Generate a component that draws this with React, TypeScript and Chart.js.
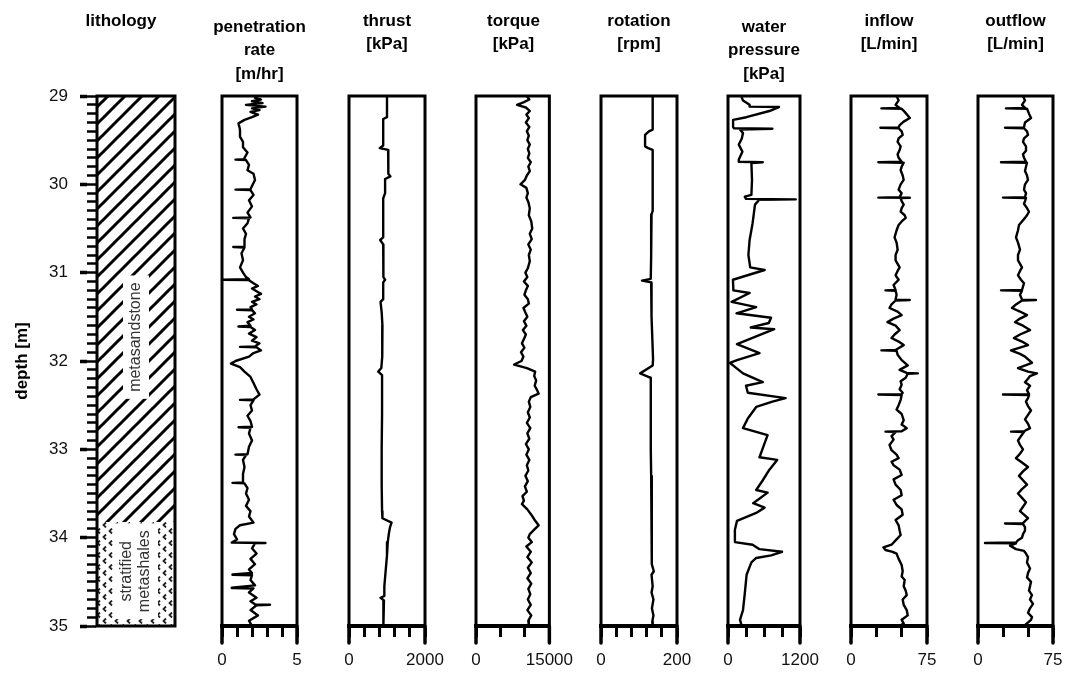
import { useEffect, useRef } from "react"
import { Chart, registerables } from "chart.js"

Chart.register(...registerables)
Chart.defaults.font.family = "'Liberation Sans', Arial, sans-serif"
Chart.defaults.color = "#111"

const depthMin = 29
const depthMax = 35

// lithology intervals [m]
const lithTop = [29, 33.82]
const lithBase = [33.82, 35]
const lithLabels = [["metasandstone"], ["stratified", "metashales"]]
const lithLabelDepth = [31.73, 34.38]

// [depth m, value]
const penetration = [
  [29.0, 2.4], [29.02, 2.2], [29.04, 2.6], [29.06, 2.0], [29.08, 2.7], [29.1, 1.6], [29.12, 2.9], [29.14, 2.0],
  [29.16, 2.5], [29.18, 1.9], [29.21, 2.4], [29.24, 2.0], [29.27, 1.5], [29.31, 1.1], [29.38, 1.2], [29.46, 1.2],
  [29.52, 1.4], [29.58, 1.4], [29.64, 1.7], [29.7, 1.5], [29.715, 1.5], [29.72, 0.9], [29.725, 1.6], [29.78, 1.8],
  [29.84, 1.7], [29.88, 2.1], [29.95, 2.2], [30.02, 2.0], [30.055, 1.9], [30.06, 0.9], [30.065, 1.9], [30.12, 2.1],
  [30.18, 1.8], [30.25, 2.0], [30.32, 1.7], [30.375, 1.9], [30.38, 0.75], [30.385, 1.8], [30.44, 1.7], [30.5, 1.4],
  [30.56, 1.6], [30.62, 1.5], [30.705, 1.5], [30.71, 0.75], [30.715, 1.5], [30.78, 1.3], [30.86, 1.4], [30.94, 1.2],
  [31.0, 1.4], [31.05, 1.6], [31.075, 1.8], [31.08, 0], [31.085, 1.8], [31.12, 2.1], [31.15, 2.4], [31.18, 2.0],
  [31.21, 2.3], [31.24, 2.6], [31.27, 2.2], [31.3, 2.5], [31.33, 2.0], [31.36, 2.3], [31.39, 1.9], [31.415, 2.0],
  [31.42, 1.0], [31.425, 2.0], [31.46, 2.2], [31.5, 1.8], [31.53, 2.1], [31.56, 1.7], [31.6, 1.9], [31.61, 1.1],
  [31.615, 1.9], [31.65, 2.2], [31.69, 1.8], [31.73, 2.3], [31.77, 2.0], [31.8, 2.5], [31.835, 2.2], [31.84, 1.2],
  [31.845, 2.3], [31.88, 2.6], [31.91, 2.1], [31.95, 1.8], [32.0, 0.9], [32.03, 0.6], [32.07, 1.2], [32.12, 1.5],
  [32.18, 1.9], [32.25, 2.1], [32.32, 2.3], [32.38, 2.5], [32.435, 2.1], [32.44, 1.2], [32.445, 2.1], [32.5, 1.9],
  [32.56, 2.0], [32.62, 1.7], [32.68, 1.9], [32.745, 2.0], [32.75, 1.1], [32.755, 1.9], [32.82, 1.8], [32.9, 2.0],
  [32.97, 1.8], [33.055, 1.7], [33.06, 0.9], [33.065, 1.6], [33.12, 1.4], [33.2, 1.5], [33.28, 1.4], [33.375, 1.4],
  [33.38, 0.7], [33.385, 1.5], [33.44, 1.7], [33.5, 1.6], [33.57, 1.8], [33.64, 1.6], [33.7, 1.9], [33.76, 1.8],
  [33.83, 2.1], [33.86, 1.2], [33.9, 0.9], [33.96, 0.8], [34.02, 1.0], [34.055, 0.65], [34.06, 2.9], [34.065, 2.2],
  [34.12, 2.0], [34.18, 2.3], [34.24, 1.9], [34.3, 2.2], [34.36, 1.8], [34.4, 2.0], [34.415, 0.7], [34.42, 0.7],
  [34.425, 2.0], [34.48, 1.9], [34.54, 2.2], [34.565, 0.65], [34.57, 0.65], [34.575, 2.1], [34.62, 1.8], [34.68, 2.3],
  [34.72, 1.9], [34.755, 2.2], [34.76, 3.2], [34.765, 2.3], [34.82, 1.9], [34.88, 2.4], [34.94, 1.8], [35.0, 2.0],
]

const thrust = [
  [29.0, 1000], [29.24, 1000], [29.26, 900], [29.56, 900], [29.59, 810], [29.61, 1030], [29.75, 1030], [29.88, 1040],
  [29.91, 1090], [29.94, 950], [30.1, 950], [30.16, 900], [30.4, 900], [30.6, 900], [30.63, 820], [30.68, 900],
  [30.9, 910], [31.05, 900], [31.08, 950], [31.11, 900], [31.3, 900], [31.33, 830], [31.45, 860], [31.6, 880],
  [31.8, 880], [31.95, 870], [32.08, 850], [32.12, 770], [32.16, 870], [32.6, 870], [33.0, 860], [33.4, 860],
  [33.7, 870], [33.78, 880], [33.83, 1120], [33.88, 1080], [33.95, 1050], [34.05, 1020], [34.2, 1000], [34.4, 960],
  [34.55, 930], [34.66, 930], [34.68, 830], [34.71, 920], [34.85, 910], [35.0, 900],
]

const torque = [
  [29.0, 10400], [29.04, 10900], [29.07, 9800], [29.1, 8400], [29.13, 10200], [29.17, 11000], [29.21, 10300],
  [29.25, 10800], [29.3, 10200], [29.35, 10900], [29.4, 10400], [29.45, 10800], [29.5, 10500], [29.55, 11000],
  [29.6, 10600], [29.65, 10900], [29.7, 10600], [29.75, 11200], [29.8, 10700], [29.85, 11000], [29.9, 10400],
  [29.95, 10000], [30.0, 9100], [30.04, 10300], [30.1, 10600], [30.15, 10300], [30.2, 10700], [30.27, 11000],
  [30.35, 10800], [30.42, 11300], [30.5, 11500], [30.56, 11000], [30.62, 11400], [30.68, 10700], [30.74, 11200],
  [30.8, 10800], [30.87, 11000], [30.95, 10600], [31.0, 10100], [31.05, 10500], [31.1, 9800], [31.15, 10600],
  [31.2, 10200], [31.25, 9900], [31.3, 10600], [31.35, 10800], [31.4, 9700], [31.45, 10100], [31.5, 10500],
  [31.55, 9800], [31.6, 10300], [31.65, 9600], [31.7, 10200], [31.75, 9800], [31.8, 9400], [31.85, 9900],
  [31.9, 9200], [31.95, 9700], [32.0, 9300], [32.04, 7800], [32.08, 10400], [32.12, 12100], [32.17, 11900],
  [32.22, 12300], [32.28, 12000], [32.33, 12500], [32.37, 12800], [32.41, 11200], [32.46, 10800], [32.52, 11100],
  [32.58, 10600], [32.64, 11000], [32.7, 10400], [32.76, 11100], [32.82, 10500], [32.88, 10900], [32.94, 10200],
  [33.0, 10800], [33.06, 10300], [33.12, 10900], [33.18, 10400], [33.24, 10700], [33.3, 10100], [33.36, 10600],
  [33.42, 10000], [33.48, 10400], [33.53, 9500], [33.58, 9800], [33.62, 9400], [33.68, 10500], [33.74, 11300],
  [33.8, 12000], [33.86, 12800], [33.91, 11900], [33.96, 11000], [34.0, 10700], [34.05, 11400], [34.1, 10300],
  [34.16, 11200], [34.22, 10500], [34.28, 11400], [34.34, 10600], [34.4, 11200], [34.46, 10500], [34.52, 11300],
  [34.58, 10700], [34.64, 11100], [34.7, 10600], [34.76, 11200], [34.82, 10500], [34.88, 11300], [34.94, 10700],
  [35.0, 10800],
]

const rotation = [
  [29.0, 136], [29.38, 136], [29.4, 126], [29.44, 116], [29.57, 116], [29.59, 124], [29.61, 136], [30.3, 136],
  [30.34, 133], [30.8, 132], [31.07, 131], [31.09, 108], [31.11, 132], [31.5, 133], [31.98, 137], [32.05, 136],
  [32.14, 103], [32.19, 131], [32.23, 131], [32.6, 131], [33.0, 131], [33.3, 132], [33.8, 133], [34.1, 134],
  [34.3, 134], [34.38, 139], [34.42, 133], [34.55, 136], [34.62, 133], [34.7, 138], [34.8, 134], [34.88, 138],
  [34.95, 135], [35.0, 136],
]

const waterPressure = [
  [29.01, 224], [29.05, 250], [29.1, 360], [29.12, 360], [29.125, 850], [29.17, 690], [29.24, 306], [29.27, 85],
  [29.35, 85], [29.365, 100], [29.37, 740], [29.38, 200], [29.42, 250], [29.48, 230], [29.55, 180], [29.63, 240],
  [29.72, 180], [29.745, 180], [29.75, 580], [29.76, 390], [29.95, 400], [30.12, 390], [30.14, 280], [30.165, 300],
  [30.17, 1130], [30.175, 520], [30.23, 450], [30.44, 410], [30.63, 360], [30.8, 340], [30.94, 370], [30.97, 610],
  [31.08, 82], [31.2, 90], [31.23, 360], [31.33, 60], [31.39, 470], [31.46, 142], [31.51, 717], [31.57, 680],
  [31.62, 380], [31.64, 770], [31.81, 150], [31.91, 525], [31.99, 150], [32.02, 30], [32.07, 120], [32.14, 250],
  [32.24, 580], [32.28, 300], [32.36, 330], [32.42, 960], [32.46, 740], [32.52, 470], [32.65, 330], [32.76, 250],
  [32.84, 660], [32.95, 600], [33.09, 525], [33.12, 820], [33.23, 690], [33.35, 580], [33.46, 470], [33.49, 660],
  [33.61, 420], [33.66, 610], [33.72, 470], [33.81, 150], [33.91, 115], [34.05, 115], [34.08, 410], [34.13, 525],
  [34.16, 900], [34.2, 720], [34.23, 470], [34.28, 390], [34.42, 310], [34.63, 280], [34.82, 250], [34.93, 200],
  [35.0, 230],
]

const inflow = [
  [29.0, 45], [29.05, 47], [29.1, 44], [29.135, 48], [29.14, 30], [29.145, 50], [29.18, 53], [29.22, 56], [29.25, 58],
  [29.29, 52], [29.33, 48], [29.355, 47], [29.36, 29], [29.365, 47], [29.4, 50], [29.44, 51], [29.48, 47], [29.52, 46],
  [29.57, 49], [29.61, 48], [29.66, 46], [29.7, 47], [29.745, 50], [29.75, 27], [29.755, 52], [29.8, 50], [29.84, 49],
  [29.9, 51], [29.95, 52], [30.0, 49], [30.06, 47], [30.1, 50], [30.145, 48], [30.15, 27], [30.152, 58], [30.155, 49],
  [30.19, 50], [30.23, 52], [30.27, 50], [30.31, 49], [30.35, 53], [30.38, 54], [30.42, 50], [30.46, 47], [30.52, 45],
  [30.6, 43], [30.66, 45], [30.74, 46], [30.8, 44], [30.86, 44], [30.94, 48], [30.98, 46], [31.03, 44], [31.08, 47],
  [31.14, 42], [31.195, 44], [31.2, 34], [31.205, 44], [31.25, 45], [31.305, 44], [31.31, 58], [31.315, 44],
  [31.36, 40], [31.4, 38], [31.44, 46], [31.48, 50], [31.52, 42], [31.56, 36], [31.6, 44], [31.65, 48], [31.7, 43],
  [31.74, 40], [31.78, 47], [31.82, 52], [31.875, 44], [31.88, 30], [31.885, 45], [31.93, 46], [31.99, 50],
  [32.05, 56], [32.1, 48], [32.135, 55], [32.14, 66], [32.145, 56], [32.19, 54], [32.23, 49], [32.27, 50],
  [32.32, 48], [32.36, 51], [32.375, 50], [32.38, 27], [32.385, 50], [32.44, 49], [32.5, 47], [32.55, 45],
  [32.6, 50], [32.67, 52], [32.72, 50], [32.76, 55], [32.795, 50], [32.8, 34], [32.805, 44], [32.85, 40],
  [32.89, 42], [32.95, 38], [33.01, 40], [33.06, 45], [33.1, 47], [33.14, 40], [33.18, 42], [33.23, 48],
  [33.29, 50], [33.34, 42], [33.4, 44], [33.46, 49], [33.52, 50], [33.57, 42], [33.63, 45], [33.68, 50],
  [33.74, 51], [33.8, 44], [33.86, 47], [33.92, 48], [33.97, 49], [34.03, 44], [34.08, 40], [34.11, 32],
  [34.14, 34], [34.16, 41], [34.18, 45], [34.24, 47], [34.31, 50], [34.38, 51], [34.44, 50], [34.48, 53],
  [34.55, 52], [34.6, 54], [34.65, 55], [34.7, 51], [34.76, 52], [34.82, 55], [34.88, 56], [34.93, 50],
  [34.97, 52], [35.0, 48],
]

const outflow = [
  [29.0, 45], [29.05, 47], [29.1, 44], [29.135, 47], [29.14, 28], [29.145, 49], [29.2, 51], [29.25, 53], [29.3, 47],
  [29.355, 46], [29.36, 27], [29.365, 46], [29.4, 49], [29.44, 50], [29.48, 46], [29.52, 45], [29.57, 48],
  [29.62, 48], [29.66, 45], [29.7, 46], [29.745, 48], [29.75, 23], [29.755, 49], [29.8, 48], [29.85, 47],
  [29.9, 49], [29.95, 50], [30.0, 47], [30.06, 46], [30.1, 48], [30.145, 47], [30.15, 25], [30.155, 48],
  [30.19, 47], [30.22, 46], [30.27, 49], [30.31, 51], [30.35, 49], [30.38, 47], [30.42, 44], [30.46, 41],
  [30.52, 40], [30.6, 38], [30.66, 40], [30.74, 42], [30.8, 40], [30.86, 40], [30.94, 44], [30.98, 42],
  [31.03, 40], [31.08, 43], [31.12, 46], [31.195, 44], [31.2, 23], [31.205, 44], [31.25, 42], [31.305, 44],
  [31.31, 58], [31.315, 44], [31.36, 38], [31.4, 34], [31.44, 42], [31.48, 49], [31.52, 42], [31.56, 37],
  [31.6, 45], [31.65, 52], [31.7, 42], [31.74, 36], [31.78, 44], [31.82, 50], [31.88, 33], [31.92, 42],
  [31.95, 47], [32.02, 54], [32.08, 40], [32.12, 50], [32.14, 59], [32.17, 52], [32.2, 50], [32.24, 47],
  [32.28, 52], [32.33, 49], [32.375, 51], [32.38, 25], [32.385, 51], [32.42, 50], [32.46, 48], [32.51, 50],
  [32.56, 53], [32.61, 50], [32.66, 47], [32.71, 50], [32.76, 52], [32.795, 46], [32.8, 33], [32.805, 46],
  [32.85, 43], [32.9, 40], [32.95, 42], [33.0, 45], [33.05, 42], [33.1, 38], [33.15, 44], [33.2, 50],
  [33.25, 45], [33.3, 41], [33.35, 45], [33.4, 49], [33.45, 44], [33.5, 40], [33.55, 44], [33.6, 48],
  [33.65, 45], [33.7, 42], [33.74, 46], [33.78, 50], [33.835, 45], [33.84, 27], [33.845, 45], [33.88, 47],
  [33.92, 47], [33.96, 45], [34.0, 44], [34.03, 40], [34.055, 38], [34.06, 7], [34.065, 38], [34.09, 32],
  [34.11, 35], [34.13, 38], [34.15, 46], [34.18, 48], [34.22, 50], [34.28, 49], [34.35, 52], [34.4, 50],
  [34.45, 49], [34.5, 53], [34.55, 52], [34.6, 51], [34.65, 54], [34.7, 52], [34.75, 55], [34.8, 52],
  [34.85, 50], [34.9, 54], [34.93, 53], [34.97, 49], [35.0, 46],
]

const panels = [
  { title: ["penetration", "rate", "[m/hr]"], data: penetration, max: 5, step: 1, left: 222, right: 297 },
  { title: ["thrust", "[kPa]"], data: thrust, max: 2000, step: 400, left: 349, right: 425 },
  { title: ["torque", "[kPa]"], data: torque, max: 15000, step: 5000, left: 476, right: 551 },
  { title: ["rotation", "[rpm]"], data: rotation, max: 200, step: 40, left: 601, right: 677 },
  { title: ["water", "pressure", "[kPa]"], data: waterPressure, max: 1200, step: 300, left: 728, right: 800 },
  { title: ["inflow", "[L/min]"], data: inflow, max: 75, step: 25, left: 851, right: 927 },
  { title: ["outflow", "[L/min]"], data: outflow, max: 75, step: 25, left: 978, right: 1053 },
]

const H = 673
const AREA_TOP = 96
const AXIS_H = 47
const LINE_H = 23.5
const SIDE = 35

function titleOptions(lines: string[]) {
  const top = lines.length > 2 ? 15.5 : 9.5
  return {
    display: true,
    text: lines,
    color: "#000",
    font: { size: 17, weight: "bold" as const, lineHeight: LINE_H / 17 },
    padding: { top, bottom: AREA_TOP - top - lines.length * LINE_H },
  }
}

// an empty vertical axis that only reserves room beside the track
function spacerAxis(position: string, width: number) {
  return {
    type: "linear",
    position,
    min: depthMin,
    max: depthMax,
    reverse: true,
    ticks: { display: false },
    grid: { display: false },
    border: { display: false },
    afterFit: (s: any) => { s.width = width },
  }
}

// box round each track, with the end ticks running below it
const framePlugin = {
  id: "frame",
  afterDraw(chart: any, _args: any, opts: any) {
    const { ctx, chartArea: a } = chart
    ctx.save()
    ctx.strokeStyle = "#000"
    ctx.lineWidth = 3
    ctx.strokeRect(a.left, a.top, a.right - a.left, a.bottom - a.top)
    if (opts.legs) {
      ctx.lineCap = "round"
      ctx.lineWidth = 3.5
      ctx.beginPath()
      ctx.moveTo(a.left, a.bottom)
      ctx.lineTo(a.left, a.bottom + opts.legs)
      ctx.moveTo(a.right, a.bottom)
      ctx.lineTo(a.right, a.bottom + opts.legs)
      ctx.stroke()
    }
    ctx.restore()
  },
}

const lithLabelPlugin = {
  id: "lithLabels",
  afterDatasetsDraw(chart: any) {
    const { ctx, chartArea: a, scales } = chart
    const cx = (a.left + a.right) / 2
    ctx.save()
    ctx.font = "16px 'Liberation Sans', Arial, sans-serif"
    lithLabels.forEach((lines, i) => {
      const cy = scales.y.getPixelForValue(lithLabelDepth[i])
      const len = Math.max(...lines.map((l) => ctx.measureText(l).width)) + 14
      const thick = lines.length * 18 + 8
      ctx.save()
      ctx.translate(cx, cy)
      ctx.rotate(-Math.PI / 2)
      ctx.fillStyle = "#fff"
      ctx.fillRect(-len / 2, -thick / 2, len, thick)
      ctx.fillStyle = "#333"
      ctx.textAlign = "center"
      ctx.textBaseline = "middle"
      lines.forEach((l, j) => ctx.fillText(l, 0, -thick / 2 + 13 + j * 18))
      ctx.restore()
    })
    ctx.restore()
  },
}

function hatchPattern() {
  const c = document.createElement("canvas")
  c.width = 17
  c.height = 17
  const g = c.getContext("2d")!
  g.fillStyle = "#fff"
  g.fillRect(0, 0, 17, 17)
  g.strokeStyle = "#000"
  g.lineWidth = 3
  g.beginPath()
  g.moveTo(-2, 19)
  g.lineTo(19, -2)
  g.moveTo(-2, 2)
  g.lineTo(2, -2)
  g.moveTo(15, 19)
  g.lineTo(19, 15)
  g.stroke()
  return g.createPattern(c, "repeat")
}

function shalePattern() {
  const c = document.createElement("canvas")
  c.width = 12
  c.height = 12
  const g = c.getContext("2d")!
  g.fillStyle = "#fff"
  g.fillRect(0, 0, 12, 12)
  g.strokeStyle = "#222"
  g.lineWidth = 1.8
  g.beginPath()
  g.moveTo(4, 0.5)
  g.lineTo(1.5, 3)
  g.lineTo(4, 5.5)
  g.moveTo(10, 6.5)
  g.lineTo(7.5, 9)
  g.lineTo(10, 11.5)
  g.stroke()
  return g.createPattern(c, "repeat")
}

function LithologyTrack() {
  const chartRef = useRef<HTMLCanvasElement>(null)
  const chartInstance = useRef<Chart | null>(null)

  useEffect(() => {
    if (!chartRef.current) return
    if (chartInstance.current) chartInstance.current.destroy()
    const patterns = [hatchPattern(), shalePattern()]

    chartInstance.current = new Chart(chartRef.current, {
      type: "bar",
      data: {
        labels: ["lithology"],
        datasets: lithTop.map((top, i) => ({
          data: [[top, lithBase[i]]],
          backgroundColor: patterns[i],
          borderWidth: 0,
          barPercentage: 1,
          categoryPercentage: 1,
          grouped: false,
          yAxisID: "y",
        })),
      },
      options: {
        animation: false,
        responsive: true,
        maintainAspectRatio: false,
        layout: { padding: { bottom: AXIS_H } },
        plugins: {
          legend: { display: false },
          tooltip: { enabled: false },
          title: titleOptions(["lithology"]),
          frame: {},
        },
        scales: {
          x: { display: false },
          y: {
            type: "linear",
            position: "left",
            weight: 0,
            min: depthMin,
            max: depthMax,
            reverse: true,
            ticks: { display: false, stepSize: 0.1 },
            grid: { drawOnChartArea: false, tickLength: 10, tickWidth: 2.5, tickColor: "#000" },
            border: { width: 3, color: "#000" },
            afterFit: (s: any) => { s.width = 10 },
          },
          yMajor: {
            type: "linear",
            position: "left",
            weight: 1,
            min: depthMin,
            max: depthMax,
            reverse: true,
            ticks: { stepSize: 1, padding: 12, font: { size: 17 }, color: "#111" },
            grid: { drawOnChartArea: false, tickLength: 7, tickWidth: 3.5, tickColor: "#000" },
            border: { display: false },
            title: {
              display: true,
              text: "depth [m]",
              color: "#000",
              font: { size: 17, weight: "bold" },
              padding: { top: 12 },
            },
            afterFit: (s: any) => { s.width = 87 },
          },
          yRight: spacerAxis("right", 67),
        },
      } as any,
      plugins: [framePlugin, lithLabelPlugin],
    })

    return () => {
      if (chartInstance.current) chartInstance.current.destroy()
      chartInstance.current = null
    }
  }, [])

  return (
    <div style={{ position: "absolute", left: 0, top: 0, width: 242, height: H }}>
      <canvas ref={chartRef} />
    </div>
  )
}

function LogTrack({ panel }: { panel: (typeof panels)[number] }) {
  const chartRef = useRef<HTMLCanvasElement>(null)
  const chartInstance = useRef<Chart | null>(null)

  useEffect(() => {
    if (!chartRef.current) return
    if (chartInstance.current) chartInstance.current.destroy()

    chartInstance.current = new Chart(chartRef.current, {
      type: "scatter",
      data: {
        datasets: [
          {
            data: panel.data.map(([d, v]) => ({ x: v, y: d })),
            showLine: true,
            borderColor: "#000",
            borderWidth: 2.4,
            borderJoinStyle: "round",
            pointRadius: 0,
            yAxisID: "y",
          },
        ],
      },
      options: {
        animation: false,
        responsive: true,
        maintainAspectRatio: false,
        plugins: {
          legend: { display: false },
          tooltip: { enabled: false },
          title: titleOptions(panel.title),
          frame: { legs: 17 },
        },
        scales: {
          x: {
            type: "linear",
            min: 0,
            max: panel.max,
            ticks: {
              stepSize: panel.step,
              autoSkip: false,
              maxRotation: 0,
              padding: 13,
              font: { size: 17 },
              color: "#111",
              callback: (v: any) => (v === 0 || v === panel.max ? String(v) : ""),
            },
            grid: { drawOnChartArea: false, tickLength: 11, tickWidth: 3, tickColor: "#000" },
            border: { width: 4, color: "#000" },
            afterFit: (s: any) => { s.height = AXIS_H },
          },
          y: spacerAxis("left", SIDE),
          yRight: spacerAxis("right", SIDE),
        },
      } as any,
      plugins: [framePlugin],
    })

    return () => {
      if (chartInstance.current) chartInstance.current.destroy()
      chartInstance.current = null
    }
  }, [panel])

  return (
    <div
      style={{
        position: "absolute",
        left: panel.left - SIDE,
        top: 0,
        width: panel.right - panel.left + 2 * SIDE,
        height: H,
      }}
    >
      <canvas ref={chartRef} />
    </div>
  )
}

export default function App() {
  return (
    <div style={{ position: "absolute", left: 0, top: 0, width: 1066, height: H, background: "#fff" }}>
      <LithologyTrack />
      {panels.map((p) => (
        <LogTrack key={p.title[0]} panel={p} />
      ))}
    </div>
  )
}
